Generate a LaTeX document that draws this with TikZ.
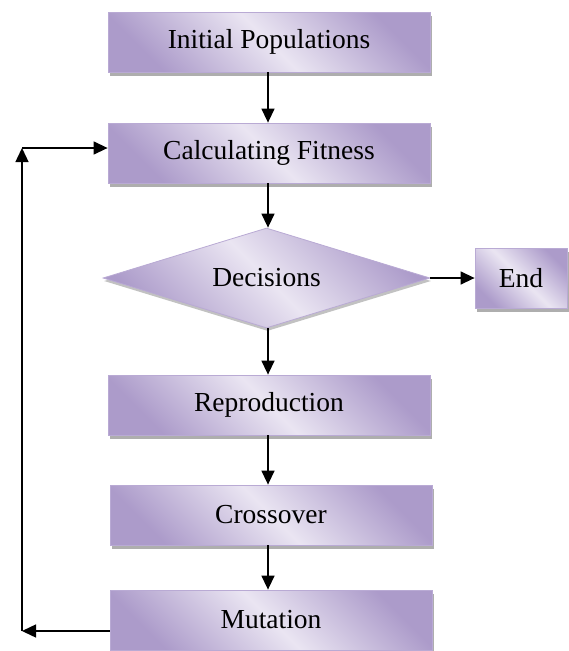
\documentclass[tikz,border=0pt]{standalone}
\usepackage{fontspec}
\setmainfont{Liberation Serif}
\usetikzlibrary{shapes.geometric,arrows.meta,shadows}
\definecolor{pdark}{RGB}{172,155,202}
\definecolor{plight}{RGB}{234,229,242}
\definecolor{pedge}{RGB}{185,170,212}
\tikzset{
  stepbox/.style={rectangle, draw=pedge, line width=0.8pt,
    top color=pdark, bottom color=pdark, middle color=plight, shading angle=-45,
    drop shadow={shadow xshift=1.5pt, shadow yshift=-3.5pt, fill=black!45, opacity=0.7},
    minimum width=322pt, minimum height=60pt, inner sep=0pt,
    font=\fontsize{27.5}{32}\selectfont},
  decbox/.style={diamond, draw=pedge, line width=0.8pt,
    top color=pdark, bottom color=pdark, middle color=plight, shading angle=-45,
    drop shadow={shadow xshift=1pt, shadow yshift=-3pt, fill=black!40, opacity=0.6},
    minimum width=327pt, minimum height=100pt, inner sep=0pt, aspect=3.2,
    font=\fontsize{27.5}{32}\selectfont},
  conn/.style={line width=1.4pt, -{Triangle[length=14pt,width=13pt]}}
}
\begin{document}
\begin{tikzpicture}[x=1pt,y=-1pt]
\useasboundingbox (0,0) rectangle (569,651);
\node[stepbox] (init) at (269,42) {Initial Populations};
\node[stepbox] (calc) at (269,153) {Calculating Fitness};
\node[decbox] (dec) at (266.5,278) {Decisions};
\node[stepbox, minimum width=92pt] (end) at (521,278) {End};
\node[stepbox] (rep) at (269,405) {Reproduction};
\node[stepbox] (cross) at (271,515) {Crossover};
\node[stepbox] (mut) at (271,620) {Mutation};
\coordinate (fb1) at (22,631);
\coordinate (fb2) at (22,148);
\draw[conn] (init.south -| 268,0) -- (calc.north -| 268,0);
\draw[conn] (calc.south -| 268,0) -- (dec.north -| 268,0);
\draw[conn] (dec) -- (end);
\draw[conn] (dec.south -| 268,0) -- (rep.north -| 268,0);
\draw[conn] (rep.south -| 268,0) -- (cross.north -| 268,0);
\draw[conn] (cross.south -| 268,0) -- (mut.north -| 268,0);
\draw[conn] (mut.west |- fb1) -- (fb1);
\draw[conn] (fb1) -- (fb2);
\draw[conn] (fb2) -- (fb2 -| calc.west);
\end{tikzpicture}
\end{document}
